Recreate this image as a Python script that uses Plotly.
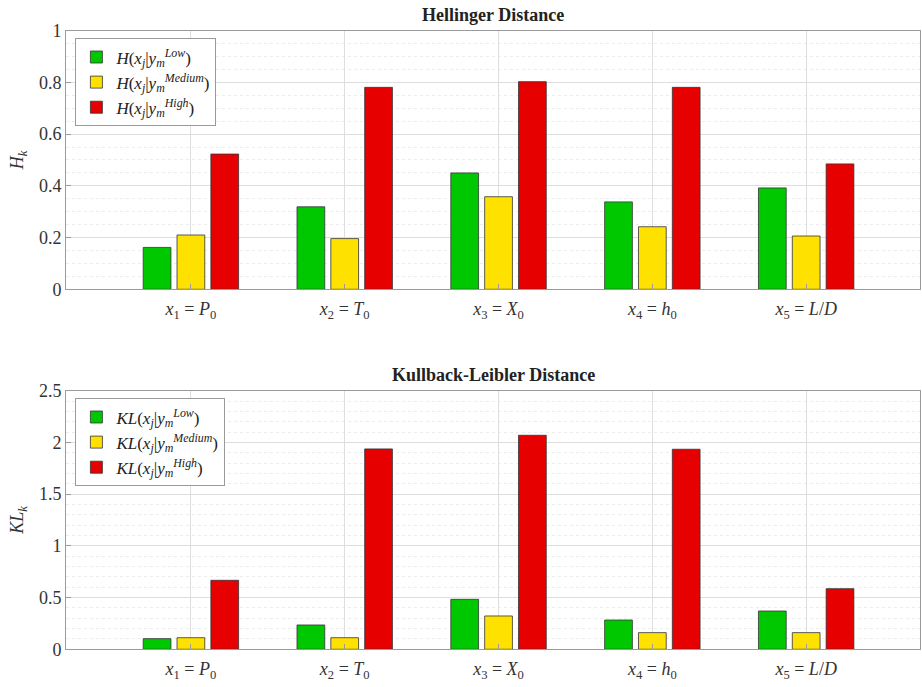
import plotly.graph_objects as go

categories = [1, 2, 3, 4, 5]
tick_labels = [
    "<i>x</i><sub>1</sub> = <i>P</i><sub>0</sub>",
    "<i>x</i><sub>2</sub> = <i>T</i><sub>0</sub>",
    "<i>x</i><sub>3</sub> = <i>X</i><sub>0</sub>",
    "<i>x</i><sub>4</sub> = <i>h</i><sub>0</sub>",
    "<i>x</i><sub>5</sub> = <i>L</i>/<i>D</i>",
]
h_low = [0.162, 0.319, 0.450, 0.338, 0.392]
h_medium = [0.210, 0.196, 0.358, 0.242, 0.206]
h_high = [0.523, 0.781, 0.803, 0.781, 0.485]
kl_low = [0.103, 0.235, 0.483, 0.283, 0.370]
kl_medium = [0.112, 0.112, 0.322, 0.161, 0.161]
kl_high = [0.667, 1.937, 2.069, 1.934, 0.586]

series_names = ["Low", "Medium", "High"]
colors = ["#00C800", "#FFE100", "#E60000"]
serif = "Liberation Serif, DejaVu Serif, serif"


def lab(prefix, level):
    return (f"{prefix}(<i>x<sub>j</sub></i>|<i>y</i><sub><i>m</i></sub>"
            f"<sup><i>{level}</i></sup>)")


fig = go.Figure()
for vals, name, col in zip([h_low, h_medium, h_high], series_names, colors):
    fig.add_trace(go.Bar(x=categories, y=vals, name=lab("<i>H</i>", name),
                         marker=dict(color=col, line=dict(color="#333333", width=0.8)),
                         xaxis="x", yaxis="y", legend="legend"))
for vals, name, col in zip([kl_low, kl_medium, kl_high], series_names, colors):
    fig.add_trace(go.Bar(x=categories, y=vals, name=lab("<i>KL</i>", name),
                         marker=dict(color=col, line=dict(color="#333333", width=0.8)),
                         xaxis="x2", yaxis="y2", legend="legend2"))

xcommon = dict(
    range=[0.188, 5.74], tickvals=categories, ticktext=tick_labels,
    showgrid=True, gridcolor="#dedede", gridwidth=1,
    showline=True, linecolor="#9a9a9a", linewidth=1, mirror=True,
    ticks="inside", ticklen=5, tickcolor="#9a9a9a",
    tickfont=dict(family=serif, size=18, color="#333333"),
    ticklabelstandoff=3, zeroline=False, automargin=False,
)
ycommon = dict(
    showgrid=True, gridcolor="#dedede", gridwidth=1,
    showline=True, linecolor="#9a9a9a", linewidth=1, mirror=True,
    ticks="inside", ticklen=5, tickcolor="#9a9a9a",
    tickfont=dict(family=serif, size=18, color="#333333"),
    zeroline=False, automargin=False,
    minor=dict(showgrid=True, gridcolor="#ececec", griddash="dot", gridwidth=1),
)

fig.update_layout(
    width=922, height=687,
    margin=dict(l=66, r=2, t=0, b=0, autoexpand=False),
    paper_bgcolor="white", plot_bgcolor="white",
    barmode="group", bargap=0.34, bargroupgap=0.18,
    showlegend=True,
    xaxis=dict(domain=[0, 1], anchor="y", **xcommon),
    xaxis2=dict(domain=[0, 1], anchor="y2", **xcommon),
    yaxis=dict(domain=[0.5789, 0.9553], anchor="x", range=[0, 1], dtick=0.2,
               title=dict(text="<i>H<sub>k</sub></i>", font=dict(family=serif, size=18, color="#333333"), standoff=10),
               **ycommon),
    yaxis2=dict(domain=[0.0549, 0.4313], anchor="x2", range=[0, 2.5], dtick=0.5,
                title=dict(text="<i>KL<sub>k</sub></i>", font=dict(family=serif, size=18, color="#333333"), standoff=10),
                **ycommon),
    legend=dict(x=0.011, y=0.944, xref="paper", yref="paper", xanchor="left", yanchor="top",
                bgcolor="white", bordercolor="#9a9a9a", borderwidth=1,
                font=dict(family=serif, size=17, color="#222222"), tracegroupgap=0,
                itemwidth=30),
    legend2=dict(x=0.011, y=0.420, xref="paper", yref="paper", xanchor="left", yanchor="top",
                 bgcolor="white", bordercolor="#9a9a9a", borderwidth=1,
                 font=dict(family=serif, size=17, color="#222222"), tracegroupgap=0,
                 itemwidth=30),
    annotations=[
        dict(text="<b>Hellinger Distance</b>", x=0.5, y=1 - 15 / 687, xref="paper", yref="paper",
             xanchor="center", yanchor="middle",
             showarrow=False, font=dict(family=serif, size=18, color="#222222")),
        dict(text="<b>Kullback-Leibler Distance</b>", x=0.5, y=1 - 375 / 687, xref="paper", yref="paper",
             xanchor="center", yanchor="middle",
             showarrow=False, font=dict(family=serif, size=18, color="#222222")),
    ],
)

fig.write_html("out.html", config={"displayModeBar": False},
               post_script="document.body.style.margin='0';")
